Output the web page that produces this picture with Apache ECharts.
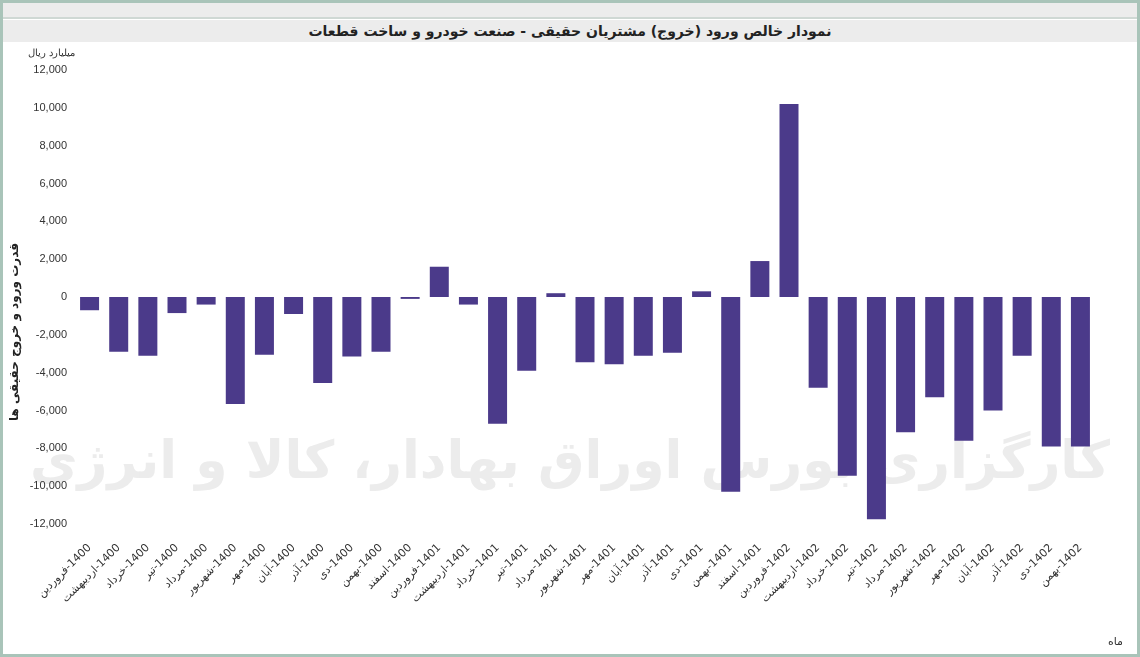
<!DOCTYPE html>
<html>
<head>
<meta charset="UTF-8">
<script src="https://cdn.jsdelivr.net/npm/echarts@6/dist/echarts.min.js"></script>
<style>
body{margin:0;background:#a9c4b9;}
#wrap{position:absolute;left:3px;top:3px;width:1134px;height:651px;background:#fff;}
#bar1{position:absolute;left:0;top:0;right:0;height:14px;background:#ececec;border-bottom:2px solid #cfd8d4;}
#title{position:absolute;left:0;right:0;top:17px;height:22px;background:#ececec;text-align:center;font:bold 14px "DejaVu Sans";line-height:22px;color:#222;direction:rtl;}
#chart{position:absolute;left:0;top:40px;width:1134px;height:611px;}
#foot{position:absolute;right:14px;bottom:6px;font:11px "DejaVu Sans";color:#333;}
</style>
</head>
<body>
<div id="wrap">
  <div id="bar1"></div>
  <div id="title">نمودار خالص ورود (خروج) مشتریان حقیقی - صنعت خودرو و ساخت قطعات</div>
  <div id="chart"></div>
  <div id="foot">ماه</div>
</div>
<script>
var months = ['فروردین','اردیبهشت','خرداد','تیر','مرداد','شهریور','مهر','آبان','آذر','دی','بهمن','اسفند'];
var categories = [];
[1400, 1401, 1402].forEach(function (y) {
    months.forEach(function (m, i) {
        if (y == 1402 && i == 11) return;
        categories.push(m + '\u200E-' + y);
    });
});
var values = [-700, -2900, -3100, -850, -400, -5650, -3050, -900, -4550, -3150, -2900, -100,
    1600, -400, -6700, -3900, 200, -3450, -3550, -3100, -2950, 300, -10300, 1900,
    10200, -4800, -9450, -11750, -7150, -5300, -7600, -6000, -3100, -7900, -7900];

var chart = echarts.init(document.getElementById('chart'));
chart.setOption({
    animation: false,
    graphic: [{
        type: 'text', left: 'center', top: 395,
        style: {text: 'کارگزاری بورس اوراق بهادار، کالا و انرژی', font: 'bold 52px "DejaVu Sans"', fill: '#ececec'}
    }, {
        type: 'text', left: 6, top: 200, rotation: Math.PI / 2,
        style: {text: 'قدرت ورود و خروج حقیقی ها', font: 'bold 12px "DejaVu Sans"', fill: '#222'}
    }],
    grid: {left: 72, right: 42, top: 27, bottom: 130},
    xAxis: {
        type: 'category', data: categories,
        axisLine: {show: false}, axisTick: {show: false},
        axisLabel: {rotate: 45, fontSize: 11, color: '#333', interval: 0, margin: 22, fontFamily: 'DejaVu Sans'}
    },
    yAxis: {
        type: 'value', min: -12000, max: 12000, interval: 2000,
        name: 'میلیارد ریال', nameGap: 12, nameTextStyle: {fontSize: 10, color: '#333', align: 'right', padding: [0, 0, 0, 30]},
        splitLine: {show: false}, axisLine: {show: false}, axisTick: {show: false},
        axisLabel: {fontSize: 11, color: '#333', formatter: function (v) { return v.toLocaleString('en-US'); }}
    },
    series: [{
        type: 'bar', data: values, barWidth: 19,
        itemStyle: {color: '#4b3a8a'}
    }]
});
</script>
</body>
</html>
